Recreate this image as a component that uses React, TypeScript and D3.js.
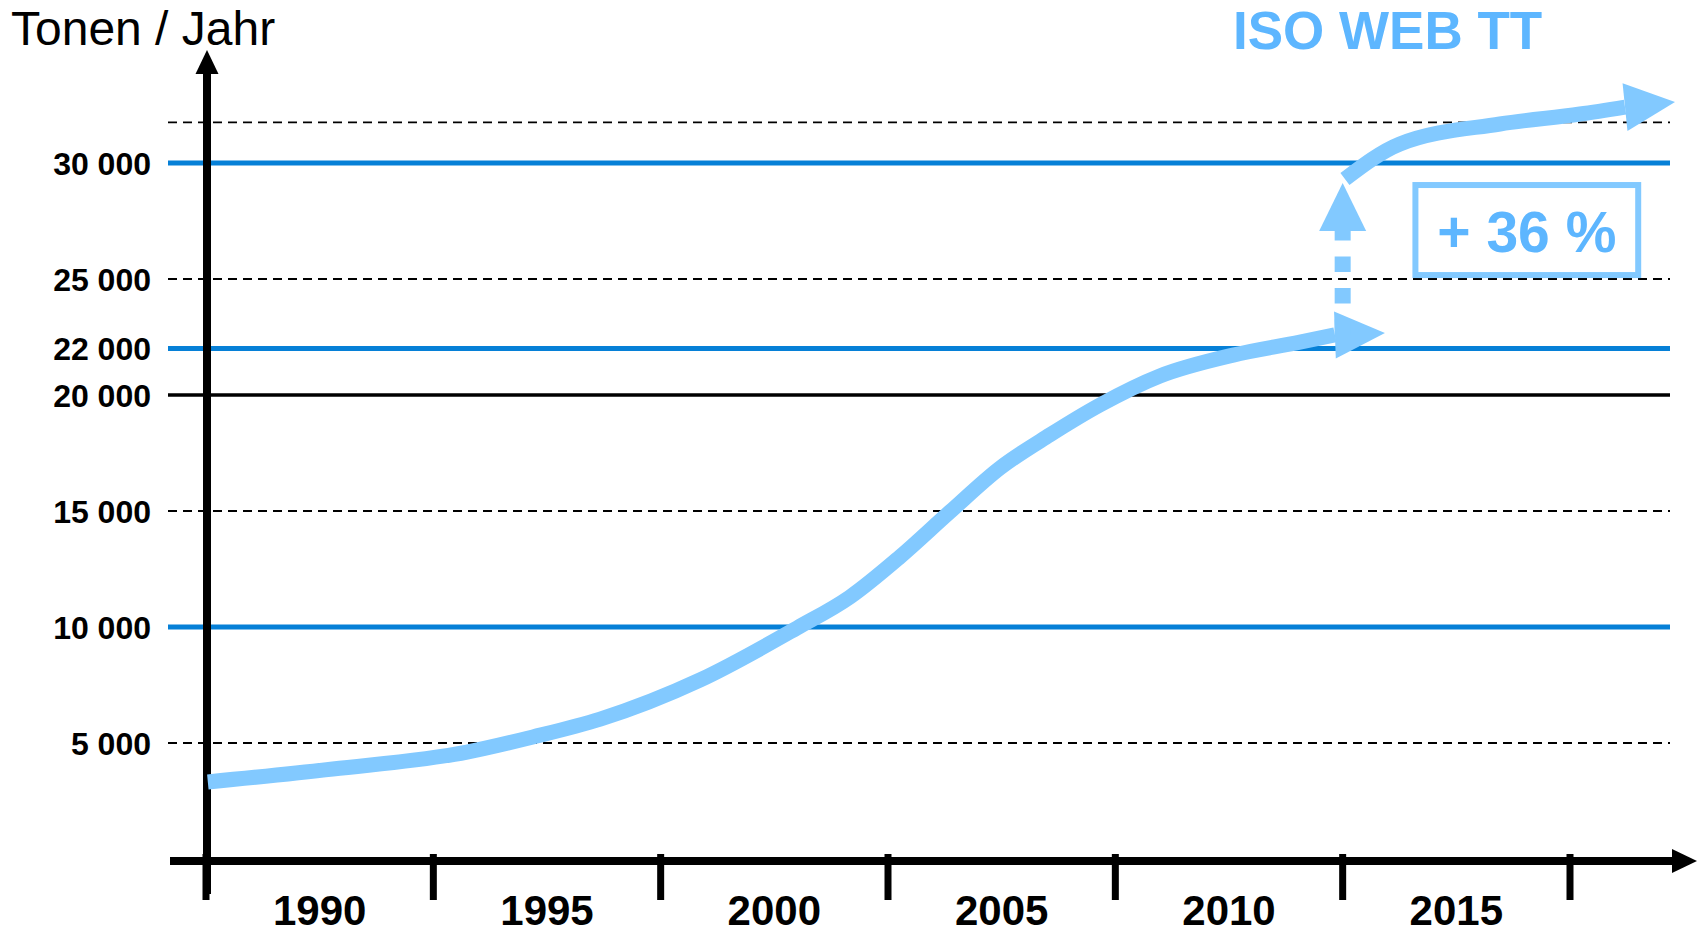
import React, { useEffect } from "react";
import * as d3 from "d3";

// y reference lines (value + style kind)
const gridValues = [31750, 30000, 25000, 22000, 20000, 15000, 10000, 5000];
const gridKinds = ["dash", "blue", "dash", "blue", "black", "dash", "blue", "dash"];

const yTickValues = [30000, 25000, 22000, 20000, 15000, 10000, 5000];
const periodStarts = [1987.5, 1992.5, 1997.5, 2002.5, 2007.5, 2012.5, 2017.5];
const yearLabels = ["1990", "1995", "2000", "2005", "2010", "2015"];
const yearLabelPos = [1990, 1995, 2000, 2005, 2010, 2015];

// growth curve up to today
const baseYears = [1987.54, 1990.29, 1993.24, 1994.69, 1996.17, 1998.37, 2000.5, 2001.66, 2002.76, 2003.86, 2004.96, 2006.06, 2007.16, 2008.48, 2010.09, 2011.56, 2012.33];
const baseValues = [3320, 3880, 4610, 5260, 6030, 7720, 9960, 11290, 13020, 14960, 16850, 18280, 19570, 20820, 21720, 22280, 22590];
const baseTip = [2013.43, 22670];

// projection with ISO WEB TT
const projYears = [2012.55, 2013.76, 2015.96, 2017.72, 2018.71];
const projValues = [29310, 30820, 31680, 32110, 32410];
const projTip = [2019.81, 32630];

// jump arrow
const jumpYear = 2012.5;
const jumpValues = [22590, 27070, 29140];

const boxYears = [2014.1, 2019.0];
const boxValues = [25170, 29050];

const LIGHT = "#82c9ff";
const TEXT_BLUE = "#5db6ff";
const LINE_BLUE = "#0680d7";
const FONT = "'Liberation Sans', Arial, sans-serif";

const fmt = d3.formatLocale({ decimal: ",", thousands: " ", grouping: [3], currency: ["", ""] }).format(",");

function arrowHead(base: number[], tip: number[], half: number) {
  const dx = tip[0] - base[0], dy = tip[1] - base[1];
  const len = Math.sqrt(dx * dx + dy * dy);
  const nx = -dy / len, ny = dx / len;
  return [
    [tip[0], tip[1]],
    [base[0] + nx * half, base[1] + ny * half],
    [base[0] - nx * half, base[1] - ny * half],
  ].map(p => p.join(",")).join(" ");
}

export default function App() {
  useEffect(() => {
    document.body.style.margin = "0";
  }, []);

  const W = 1700, H = 935;
  const x = d3.scaleLinear().domain([1987.5, 2017.5]).range([206, 1570]);
  const y = d3.scaleLinear().domain([0, 30000]).range([859, 163]);

  const line = d3.line<number[]>().x(d => x(d[0])).y(d => y(d[1])).curve(d3.curveMonotoneX);

  const basePts = baseYears.map((yr, i) => [yr, baseValues[i]]);
  const projPts = projYears.map((yr, i) => [yr, projValues[i]]);

  const baseEnd = basePts[basePts.length - 1];
  const projEnd = projPts[projPts.length - 1];

  const axisY = 861;
  const yAxisX = x(1987.5) + 1;

  return (
    <svg width={W} height={H} style={{ display: "block", background: "#fff" }} fontFamily={FONT}>
      {/* reference lines */}
      {gridValues.map((v, i) => {
        const k = gridKinds[i];
        return (
          <line key={"g" + i} x1={168} x2={1670} y1={y(v)} y2={y(v)}
            stroke={k === "blue" ? LINE_BLUE : "#000"}
            strokeWidth={k === "blue" ? 5 : k === "black" ? 3.5 : 1.8}
            strokeDasharray={k === "dash" ? "9,6" : undefined} />
        );
      })}

      {/* y tick labels */}
      {yTickValues.map(v => (
        <text key={"t" + v} x={151} y={y(v) + 11.5} textAnchor="end" fontSize={32} fontWeight="bold" fill="#000">
          {fmt(v)}
        </text>
      ))}

      {/* axes */}
      <line x1={yAxisX} x2={yAxisX} y1={72} y2={894} stroke="#000" strokeWidth={8} />
      <polygon points={`${yAxisX},50 ${yAxisX - 11.5},74 ${yAxisX + 11.5},74`} fill="#000" />
      <line x1={170} x2={1674} y1={axisY} y2={axisY} stroke="#000" strokeWidth={8} />
      <polygon points={`1697,${axisY} 1672,${axisY - 12} 1672,${axisY + 12}`} fill="#000" />
      {periodStarts.map(p => (
        <line key={"p" + p} x1={x(p)} x2={x(p)} y1={854} y2={900} stroke="#000" strokeWidth={7} />
      ))}
      {yearLabels.map((lab, i) => (
        <text key={lab} x={x(yearLabelPos[i])} y={925} textAnchor="middle" fontSize={42} fontWeight="bold" fill="#000">
          {lab}
        </text>
      ))}

      {/* base curve */}
      <path d={line(basePts) || ""} fill="none" stroke={LIGHT} strokeWidth={15} />
      <polygon points={arrowHead([x(baseEnd[0]), y(baseEnd[1])], [x(baseTip[0]), y(baseTip[1])], 23.5)} fill={LIGHT} />

      {/* jump arrow */}
      <line x1={x(jumpYear)} x2={x(jumpYear)} y1={y(jumpValues[0])} y2={y(jumpValues[1])}
        stroke={LIGHT} strokeWidth={16} strokeDasharray="15.5,16" />
      <polygon points={arrowHead([x(jumpYear), y(jumpValues[1])], [x(jumpYear), y(jumpValues[2])], 23.5)} fill={LIGHT} />

      {/* projection curve */}
      <path d={line(projPts) || ""} fill="none" stroke={LIGHT} strokeWidth={15} />
      <polygon points={arrowHead([x(projEnd[0]), y(projEnd[1])], [x(projTip[0]), y(projTip[1])], 24)} fill={LIGHT} />

      {/* +36 % box */}
      <rect x={x(boxYears[0])} y={y(boxValues[1])} width={x(boxYears[1]) - x(boxYears[0])}
        height={y(boxValues[0]) - y(boxValues[1])} fill="none" stroke={LIGHT} strokeWidth={6} />
      <text x={(x(boxYears[0]) + x(boxYears[1])) / 2} y={252} textAnchor="middle" fontSize={57} fontWeight="bold" fill={TEXT_BLUE}>
        + 36 %
      </text>

      {/* titles */}
      <text x={11} y={45} fontSize={48} fill="#000">Tonen / Jahr</text>
      <text x={1233} y={49} fontSize={53} fontWeight="bold" fill={TEXT_BLUE}>ISO WEB TT</text>
    </svg>
  );
}
